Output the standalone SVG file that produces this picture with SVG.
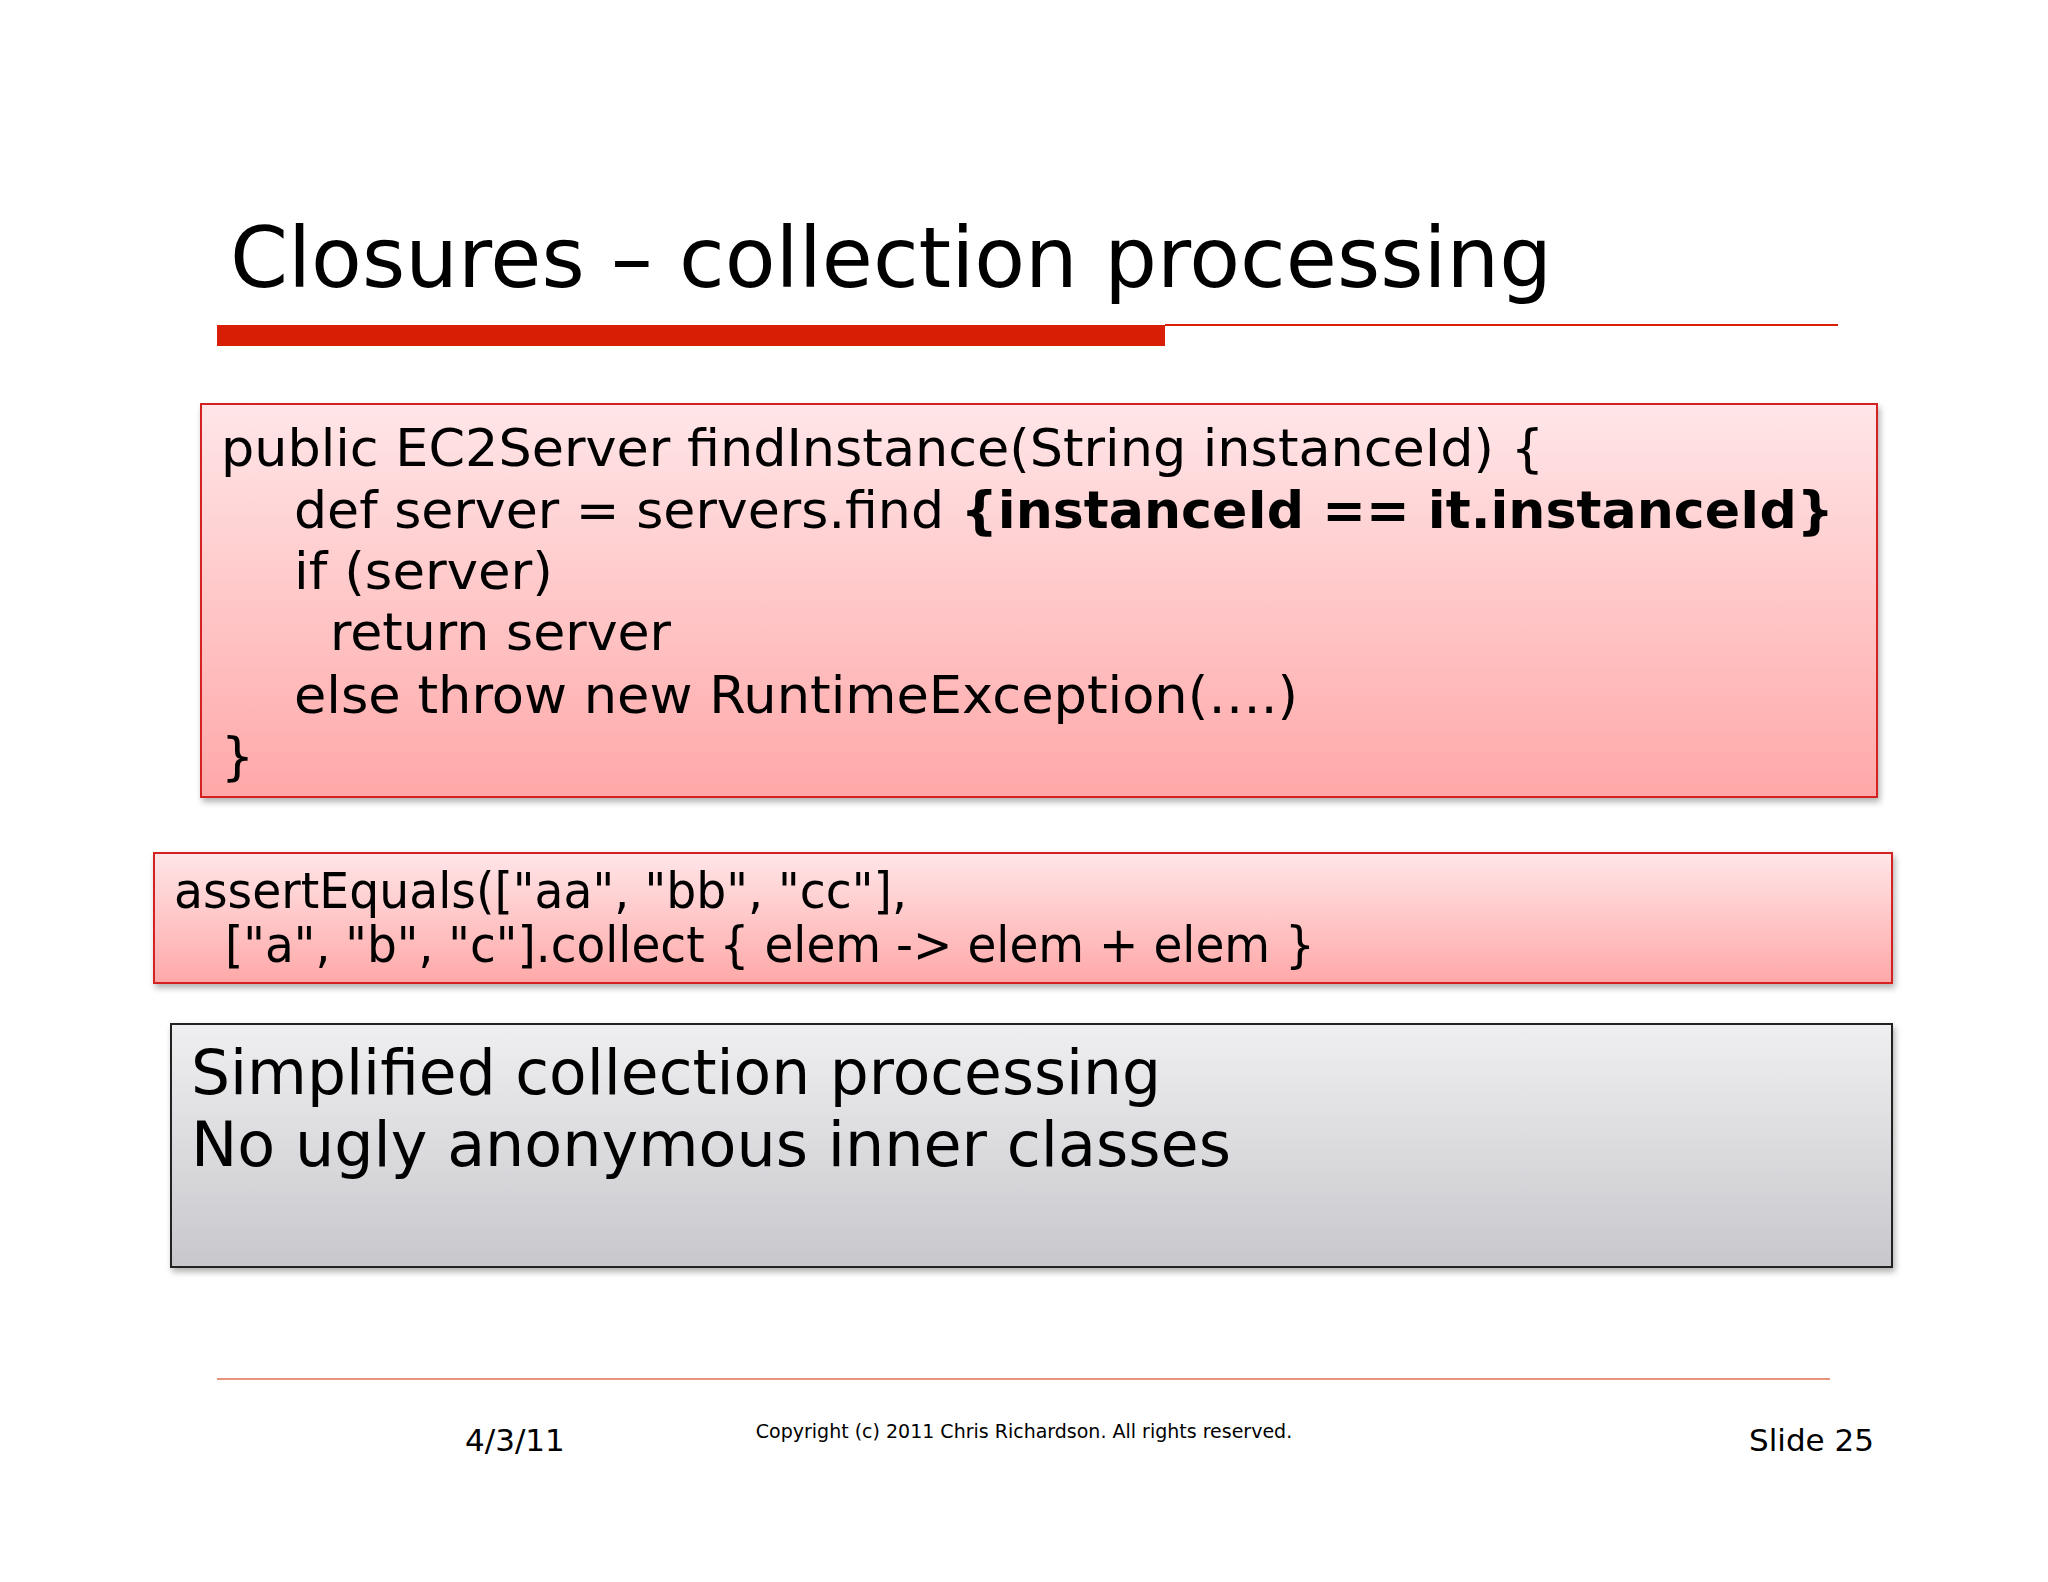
<svg xmlns="http://www.w3.org/2000/svg" width="2048" height="1582" viewBox="0 0 2048 1582">
<style>
text{font-family:"DejaVu Sans","Noto Sans",sans-serif;fill:#000}
.code{font-size:52px}
.c2{font-size:49px}
.c3{font-size:62px}
.ft{font-size:31px}
</style>
<defs>
<linearGradient id="pink" x1="0" y1="0" x2="0" y2="1"><stop offset="0" stop-color="#ffe6e8"/><stop offset="1" stop-color="#ffa8a8"/></linearGradient>
<linearGradient id="gray" x1="0" y1="0" x2="0" y2="1"><stop offset="0" stop-color="#efeff2"/><stop offset="1" stop-color="#c8c8cc"/></linearGradient>
<filter id="sh" x="-5%" y="-5%" width="110%" height="120%"><feDropShadow dx="2" dy="4" stdDeviation="3" flood-color="#000" flood-opacity="0.3"/></filter>
</defs>
<rect width="2048" height="1582" fill="#fff"/>
<g id="title">
<text x="230" y="287" font-size="84" textLength="1322" lengthAdjust="spacingAndGlyphs">Closures – collection processing</text>
<rect x="217" y="325" width="948" height="21" fill="#d81e05"/>
<line x1="1165" y1="325" x2="1838" y2="325" stroke="#d81e05" stroke-width="2"/>
</g>
<g id="box1">
<rect x="201" y="404" width="1676" height="393" fill="url(#pink)" stroke="#d42020" stroke-width="2" filter="url(#sh)"/>
<text class="code" x="221" y="466" textLength="1323" lengthAdjust="spacingAndGlyphs">public EC2Server findInstance(String instanceId) {</text>
<text class="code" x="294" y="528" textLength="1540" lengthAdjust="spacingAndGlyphs">def server = servers.find <tspan font-weight="bold">{instanceId == it.instanceId}</tspan></text>
<text class="code" x="294" y="589" textLength="259" lengthAdjust="spacingAndGlyphs">if (server)</text>
<text class="code" x="330" y="650" textLength="341" lengthAdjust="spacingAndGlyphs">return server</text>
<text class="code" x="294" y="713" textLength="1004" lengthAdjust="spacingAndGlyphs">else  throw new RuntimeException(….)</text>
<text class="code" x="221" y="774">}</text>
</g>
<g id="box2">
<rect x="154" y="853" width="1738" height="130" fill="url(#pink)" stroke="#d42020" stroke-width="2" filter="url(#sh)"/>
<text class="c2" x="174" y="908" textLength="733" lengthAdjust="spacingAndGlyphs">assertEquals(["aa", "bb", "cc"],</text>
<text class="c2" x="225" y="962" textLength="1090" lengthAdjust="spacingAndGlyphs">["a", "b", "c"].collect { elem -&gt; elem + elem }</text>
</g>
<g id="box3">
<rect x="171" y="1024" width="1721" height="243" fill="url(#gray)" stroke="#222" stroke-width="2" filter="url(#sh)"/>
<text class="c3" x="191" y="1094" textLength="970" lengthAdjust="spacingAndGlyphs">Simplified collection processing</text>
<text class="c3" x="191" y="1166" textLength="1040" lengthAdjust="spacingAndGlyphs">No ugly anonymous inner classes</text>
</g>
<g id="footer">
<line x1="217" y1="1379" x2="1830" y2="1379" stroke="#e07050" stroke-width="1.5"/>
<text class="ft" x="465" y="1451">4/3/11</text>
<text x="1024" y="1438" font-size="19" text-anchor="middle">Copyright (c)  2011 Chris Richardson. All rights reserved.</text>
<text class="ft" x="1874" y="1451" text-anchor="end">Slide 25</text>
</g>
</svg>
